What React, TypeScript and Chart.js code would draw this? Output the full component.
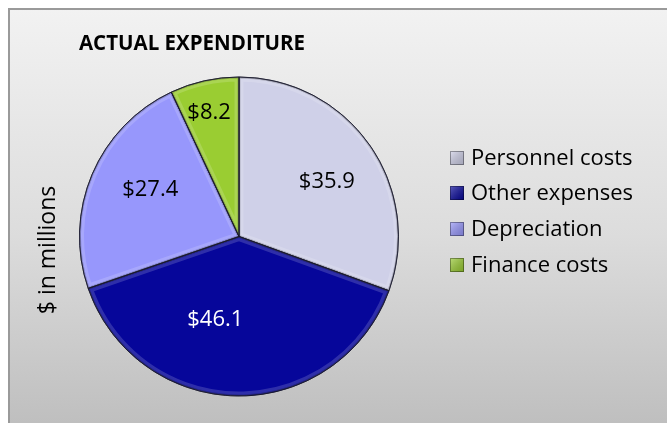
import React, { useEffect, useRef } from "react";
import { Chart, registerables } from "chart.js";

Chart.register(...registerables);

// ---- data ----
const categories = ["Personnel costs", "Other expenses", "Depreciation", "Finance costs"];
const values = [35.9, 46.1, 27.4, 8.2];
const titleText = "ACTUAL EXPENDITURE";
const axisTitle = "$ in millions";

// ---- style ----
const colors = ["#cfd0e8", "#06069a", "#9797fc", "#9acd32"];
const labelColors = ["#000000", "#ffffff", "#000000", "#000000"];
// [angle offset in degrees, radius factor] for value labels
const labelPlacement: [number, number][] = [
  [3, 0.65],
  [15.5, 0.54],
  [5, 0.63],
  [-1, 0.8],
];
const FONT = '"Open Sans", sans-serif';

const fmt = (v: number) => "$" + v.toFixed(1);

const decorPlugin = {
  id: "decor",
  beforeDraw(chart: any) {
    const { ctx, width, height } = chart;
    ctx.save();
    ctx.fillStyle = "#ffffff";
    ctx.fillRect(0, 0, width, height);
    const g = ctx.createLinearGradient(0, 9, 0, height);
    g.addColorStop(0, "#f2f2f2");
    g.addColorStop(0.55, "#dcdcdc");
    g.addColorStop(1, "#bfbfbf");
    ctx.fillStyle = g;
    ctx.fillRect(9, 9, width - 9, height - 9);
    ctx.fillStyle = "#9a9a9a";
    ctx.fillRect(8, 8, width - 8, 2);
    ctx.fillRect(8, 8, 2, height - 8);
    ctx.restore();
  },
  afterDatasetsDraw(chart: any) {
    const { ctx } = chart;
    const meta = chart.getDatasetMeta(0);
    ctx.save();
    // bevel effect
    meta.data.forEach((arc: any) => {
      const { x, y, startAngle, endAngle, outerRadius } = arc.getProps(
        ["x", "y", "startAngle", "endAngle", "outerRadius"],
        true
      );
      ctx.save();
      ctx.beginPath();
      ctx.moveTo(x, y);
      ctx.arc(x, y, outerRadius, startAngle, endAngle);
      ctx.closePath();
      ctx.clip();
      ctx.lineJoin = "round";
      ctx.strokeStyle = "rgba(255,255,255,0.16)";
      ctx.lineWidth = 9;
      ctx.stroke();
      ctx.strokeStyle = "rgba(0,0,0,0.2)";
      ctx.lineWidth = 3;
      ctx.stroke();
      ctx.restore();
      ctx.beginPath();
      ctx.moveTo(x, y);
      ctx.arc(x, y, outerRadius, startAngle, endAngle);
      ctx.closePath();
      ctx.strokeStyle = "rgba(20,20,40,0.75)";
      ctx.lineWidth = 1;
      ctx.stroke();
    });
    // value labels
    ctx.font = `22px ${FONT}`;
    ctx.textAlign = "center";
    ctx.textBaseline = "middle";
    meta.data.forEach((arc: any, i: number) => {
      const { x, y, startAngle, endAngle, outerRadius } = arc.getProps(
        ["x", "y", "startAngle", "endAngle", "outerRadius"],
        true
      );
      const [off, f] = labelPlacement[i];
      const a = (startAngle + endAngle) / 2 + (off * Math.PI) / 180;
      const r = outerRadius * f;
      ctx.fillStyle = labelColors[i];
      ctx.fillText(fmt(values[i]), x + r * Math.cos(a), y + r * Math.sin(a));
    });
    ctx.restore();
  },
  afterDraw(chart: any) {
    const { ctx } = chart;
    ctx.save();
    // title
    ctx.fillStyle = "#000000";
    ctx.font = `bold 20.5px ${FONT}`;
    ctx.textAlign = "center";
    ctx.textBaseline = "alphabetic";
    ctx.fillText(titleText, 192, 50);
    // axis title
    ctx.save();
    ctx.translate(48, 250);
    ctx.rotate(-Math.PI / 2);
    ctx.font = `23px ${FONT}`;
    ctx.textAlign = "center";
    ctx.textBaseline = "middle";
    ctx.fillText(axisTitle, 0, 0);
    ctx.restore();
    // legend
    const rows = [158, 193, 229, 265];
    ctx.font = `22px ${FONT}`;
    ctx.textAlign = "left";
    ctx.textBaseline = "middle";
    categories.forEach((c, i) => {
      const yy = rows[i];
      const bx = 450, by = yy - 7, s = 14;
      const g = ctx.createLinearGradient(bx, by, bx + s, by + s);
      g.addColorStop(0, "rgba(255,255,255,0.35)");
      g.addColorStop(1, "rgba(0,0,0,0.2)");
      ctx.fillStyle = colors[i];
      ctx.fillRect(bx, by, s, s);
      ctx.fillStyle = g;
      ctx.fillRect(bx, by, s, s);
      ctx.strokeStyle = "rgba(0,0,0,0.35)";
      ctx.lineWidth = 1;
      ctx.strokeRect(bx + 0.5, by + 0.5, s - 1, s - 1);
      ctx.fillStyle = "#000000";
      ctx.fillText(c, 471, yy + 1);
    });
    ctx.restore();
  },
};

export default function App() {
  const ref = useRef<HTMLCanvasElement>(null);
  useEffect(() => {
    if (!ref.current) return;
    const chart = new Chart(ref.current, {
      type: "pie",
      data: {
        labels: categories,
        datasets: [
          {
            data: values,
            backgroundColor: colors,
            borderColor: "rgba(20,20,40,0.75)",
            borderWidth: 1,
          },
        ],
      },
      options: {
        responsive: false,
        animation: false,
        devicePixelRatio: 1,
        layout: { padding: { left: 79, top: 76, right: 268, bottom: 26 } },
        plugins: {
          legend: { display: false },
          title: { display: false },
          tooltip: { enabled: false },
        },
      },
      plugins: [decorPlugin],
    });
    return () => chart.destroy();
  }, []);
  return (
    <div style={{ position: "fixed", left: 0, top: 0, width: 667, height: 423 }}>
      <canvas ref={ref} width={667} height={423} style={{ width: 667, height: 423, display: "block" }} />
    </div>
  );
}
